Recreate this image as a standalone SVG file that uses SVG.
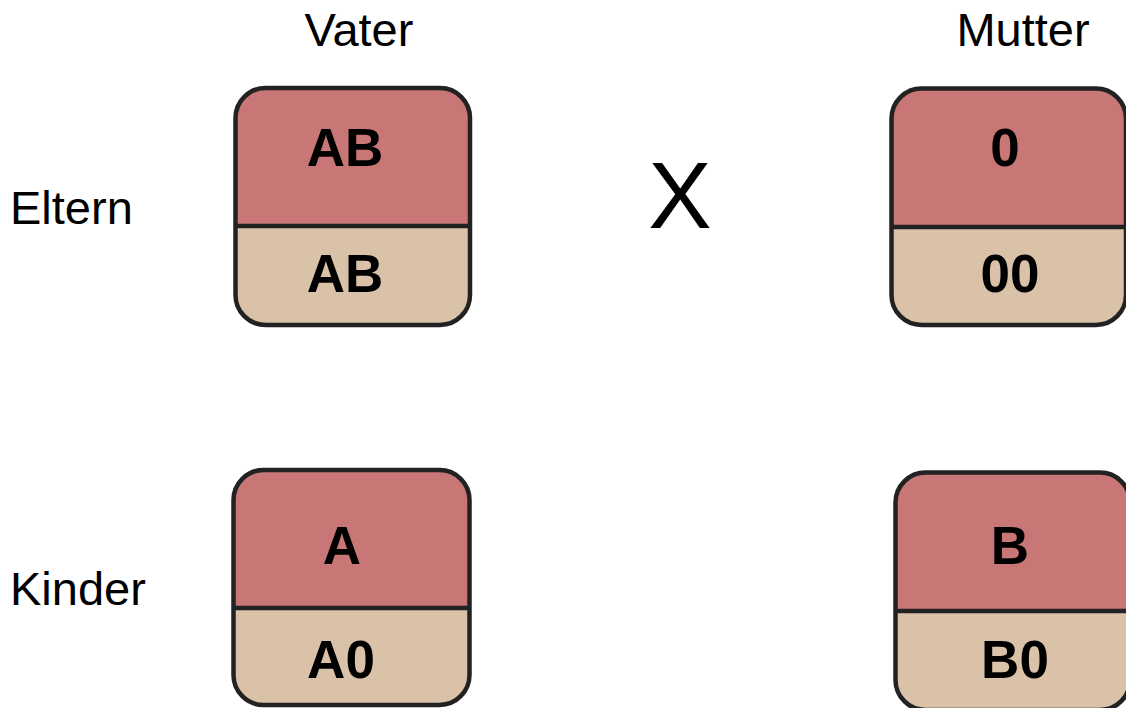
<svg xmlns="http://www.w3.org/2000/svg" width="1126" height="708" viewBox="0 0 1126 708">
<style>
.top{fill:#c87676}
.bot{fill:#d9c2a8}
.out{fill:none;stroke:#222;stroke-width:4.5}
.div{stroke:#222;stroke-width:4.5}
.lbl{font-family:"Liberation Sans",Arial,sans-serif;font-size:47px;fill:#000}
.b{font-family:"Liberation Sans",Arial,sans-serif;font-size:53px;font-weight:bold;fill:#000;text-anchor:middle}
</style>
<rect width="1126" height="708" fill="#fff"/>
<g id="labels">
<text class="lbl" x="359" y="46" text-anchor="middle">Vater</text>
<text class="lbl" x="1023" y="46" text-anchor="middle">Mutter</text>
<text class="lbl" x="10" y="224">Eltern</text>
<text class="lbl" x="10" y="605">Kinder</text>
<text x="680" y="228" font-family="Liberation Sans,Arial,sans-serif" font-size="95" text-anchor="middle">X</text>
</g>
<g id="vater">
<path class="top" d="M235.5,226 V118 A30,30 0 0 1 265.5,88 H440 A30,30 0 0 1 470,118 V226 Z"/>
<path class="bot" d="M235.5,226 V295 A30,30 0 0 0 265.5,325 H440 A30,30 0 0 0 470,295 V226 Z"/>
<line class="div" x1="235.5" y1="226" x2="470" y2="226"/>
<rect class="out" x="235.5" y="88" width="234.5" height="237" rx="30"/>
<text class="b" x="345" y="166">AB</text>
<text class="b" x="345" y="292">AB</text>
</g>
<g id="mutter">
<path class="top" d="M891.5,227 V118 A30,30 0 0 1 921.5,88.5 H1096 A30,30 0 0 1 1126,118 V227 Z"/>
<path class="bot" d="M891.5,227 V295 A30,30 0 0 0 921.5,325 H1096 A30,30 0 0 0 1126,295 V227 Z"/>
<line class="div" x1="891.5" y1="227" x2="1126" y2="227"/>
<rect class="out" x="891.5" y="88.5" width="234.5" height="236.5" rx="30"/>
<text class="b" x="1005" y="166">0</text>
<text class="b" x="1010" y="292">00</text>
</g>
<g id="kind1">
<path class="top" d="M233.5,608 V500 A30,30 0 0 1 263.5,470 H439.5 A30,30 0 0 1 469.5,500 V608 Z"/>
<path class="bot" d="M233.5,608 V675 A30,30 0 0 0 263.5,705 H439.5 A30,30 0 0 0 469.5,675 V608 Z"/>
<line class="div" x1="233.5" y1="608" x2="469.5" y2="608"/>
<rect class="out" x="233.5" y="470" width="236" height="235" rx="30"/>
<text class="b" x="342" y="564">A</text>
<text class="b" x="341" y="678">A0</text>
</g>
<g id="kind2">
<path class="top" d="M895.5,611 V502.5 A30,30 0 0 1 925.5,472.5 H1100 A30,30 0 0 1 1130,502.5 V611 Z"/>
<path class="bot" d="M895.5,611 V680 A30,30 0 0 0 925.5,710 H1100 A30,30 0 0 0 1130,680 V611 Z"/>
<line class="div" x1="895.5" y1="611" x2="1130" y2="611"/>
<rect class="out" x="895.5" y="472.5" width="234.5" height="237.5" rx="30"/>
<text class="b" x="1010" y="564">B</text>
<text class="b" x="1015" y="678">B0</text>
</g>
<g id="connectors"></g>
</svg>
